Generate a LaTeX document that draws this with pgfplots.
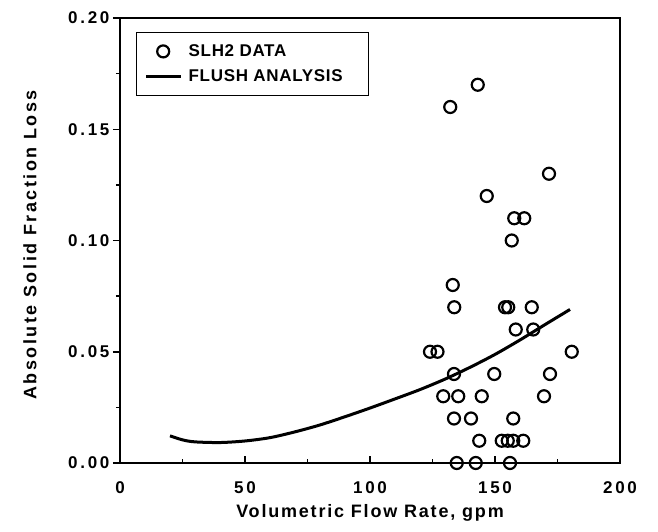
\documentclass[border=0pt]{standalone}
\usepackage{fontspec}
\setmainfont{Liberation Sans}
\newfontfamily\labfont[LetterSpace=10]{Liberation Sans}
\newfontfamily\ylabfont[LetterSpace=14]{Liberation Sans}
\newfontfamily\tickfont[LetterSpace=16]{Liberation Sans}
\newfontfamily\legfont[LetterSpace=4]{Liberation Sans}
\usepackage{pgfplots}
\pgfplotsset{compat=1.18}

% wider legend samples
\pgfplotsset{
  markleg/.style={legend image code/.code={\draw[mark repeat=2,mark phase=2,##1]
    plot coordinates {(0pt,0pt) (17pt,0pt) (35pt,0pt)};}},
  lineleg/.style={legend image code/.code={\draw[##1] (0pt,0pt) -- (35pt,0pt);}},
}

% measured slush hydrogen solid-fraction losses
\pgfplotstableread{
x y
134.7 0.00
142.3 0.00
156.0 0.00
143.7 0.01
152.7 0.01
155.1 0.01
157.3 0.01
161.3 0.01
133.6 0.02
140.4 0.02
157.3 0.02
129.3 0.03
135.3 0.03
144.7 0.03
169.6 0.03
133.6 0.04
149.7 0.04
172.0 0.04
124.0 0.05
127.0 0.05
180.7 0.05
158.3 0.06
165.3 0.06
133.7 0.07
154.0 0.07
155.3 0.07
164.7 0.07
133.1 0.08
156.7 0.10
157.7 0.11
161.7 0.11
146.7 0.12
171.6 0.13
132.1 0.16
143.1 0.17
}\slhdata

% FLUSH code prediction
\pgfplotstableread{
x y
20 0.0122
25 0.0104
30 0.0095
40 0.0092
50 0.0099
60 0.0114
70 0.0140
80 0.0171
90 0.0208
100 0.0247
110 0.0288
120 0.0330
130 0.0377
140 0.0430
150 0.0488
160 0.0553
170 0.0622
180 0.0690
}\flush

\begin{document}
\begin{tikzpicture}
\useasboundingbox (-120pt,-68pt) rectangle (538pt,463pt);
\begin{axis}[
  anchor=south west, at={(0pt,0pt)},
  width=500pt, height=445pt, scale only axis,
  xmin=0, xmax=200, ymin=0, ymax=0.2,
  xtick={0,50,100,150,200},
  ytick={0,0.05,0.10,0.15,0.20},
  minor x tick num=1, minor y tick num=1,
  xtick pos=bottom, ytick pos=left,
  xtick align=inside, ytick align=outside,
  major tick length=7pt, minor tick length=4pt,
  every tick/.style={black, line width=1.5pt},
  axis line style={line width=2pt},
  /pgf/number format/assume math mode=true,
  yticklabel style={/pgf/number format/.cd, fixed, fixed zerofill, precision=2},
  xticklabel style={yshift=-15pt},
  ticklabel style={font=\tickfont\bfseries\fontsize{17}{19}\selectfont},
  xlabel={Volumetric Flow Rate, gpm},
  ylabel={Absolute Solid Fraction Loss},
  xlabel style={at={(axis description cs:0.5,-0.113)}, anchor=center,
    font=\labfont\bfseries\fontsize{18}{20}\selectfont},
  ylabel style={at={(axis description cs:-0.18,0.49)}, anchor=center,
    font=\ylabfont\bfseries\fontsize{18}{20}\selectfont},
  legend cell align=left,
  legend style={at={(axis description cs:0.032,0.9685)}, anchor=north west,
    draw=black, line width=1.4pt, inner xsep=8pt, inner ysep=10pt,
    row sep=8pt,
    font=\legfont\bfseries\fontsize{17}{19}\selectfont,
    nodes={inner xsep=6pt}},
]
\addplot[only marks, mark=o, mark size=6pt, mark options={line width=2.2pt}, markleg]
  table[x=x,y=y] {\slhdata};
\addlegendentry{SLH2 DATA}
\addplot[black, line width=3pt, smooth, no marks, lineleg]
  table[x=x,y=y] {\flush};
\addlegendentry{FLUSH ANALYSIS\hspace{12pt}\mbox{}}
\end{axis}
\end{tikzpicture}
\end{document}
